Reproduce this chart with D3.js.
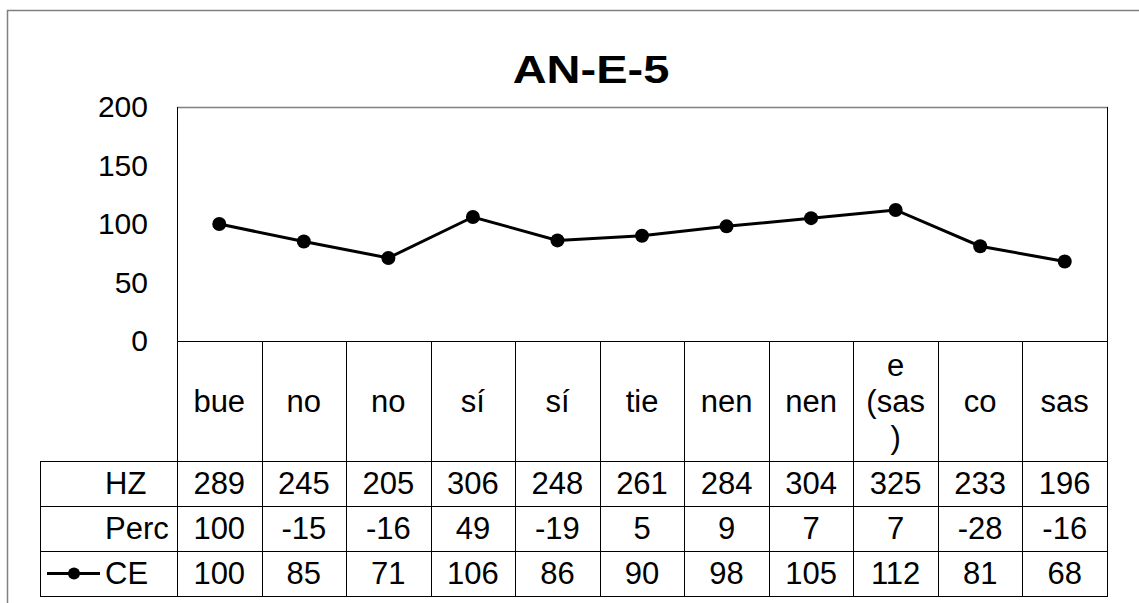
<!DOCTYPE html>
<html lang="en">
<head>
  <meta charset="UTF-8">
  <title>AN-E-5</title>
  <script src="https://cdn.jsdelivr.net/npm/d3@7"></script>
  <style>
    body { margin: 0; background: #fff; }
    text { font-family: "Liberation Sans", Arial, sans-serif; fill: #000; }
  </style>
</head>
<body>
  <script>
    const title = "AN-E-5";
    const categories = ["bue", "no", "no", "sí", "sí", "tie", "nen", "nen", "e (sas)", "co", "sas"];
    const hzValues = [289, 245, 205, 306, 248, 261, 284, 304, 325, 233, 196];
    const percValues = [100, -15, -16, 49, -19, 5, 9, 7, 7, -28, -16];
    const ceValues = [100, 85, 71, 106, 86, 90, 98, 105, 112, 81, 68];
    const yTicks = [0, 50, 100, 150, 200];

    const w = 1139, h = 603;
    const plotLeft = 177, plotRight = 1107, plotTop = 107, axisY = 341;
    const catBottom = 461, rowH = 45, tableLeft = 40;
    const fs = 30, tfs = 31;

    const svg = d3.select("body").append("svg")
      .attr("width", w).attr("height", h);

    // outer frame
    svg.append("rect")
      .attr("x", 7.5).attr("y", 10.5)
      .attr("width", w + 20).attr("height", h + 20)
      .attr("fill", "none").attr("stroke", "#808080").attr("stroke-width", 1.5);

    // title: wide glyphs, squashed vertically like the original
    svg.append("text")
      .attr("transform", "translate(591,83) scale(1,0.83)")
      .attr("text-anchor", "middle")
      .style("font-size", "47px").style("font-weight", "bold")
      .text(title);

    const x = d3.scaleBand().domain(d3.range(categories.length)).range([plotLeft, plotRight]);
    const y = d3.scaleLinear().domain([0, 200]).range([axisY, plotTop]);

    // plot area border
    svg.append("rect")
      .attr("x", plotLeft + 0.5).attr("y", plotTop + 0.5)
      .attr("width", plotRight - plotLeft).attr("height", axisY - plotTop)
      .attr("fill", "none").attr("stroke", "#000").attr("stroke-width", 1);
    svg.append("line")
      .attr("x1", plotLeft).attr("x2", plotRight + 1)
      .attr("y1", plotTop + 0.5).attr("y2", plotTop + 0.5)
      .attr("stroke", "#808080").attr("stroke-width", 1.5);

    // y axis labels
    const yAxis = d3.axisLeft(y).tickValues(yTicks).tickSize(0).tickPadding(29);
    const gy = svg.append("g").attr("transform", `translate(${plotLeft},0)`).call(yAxis);
    gy.select(".domain").remove();
    gy.selectAll("text")
      .style("font-size", fs + "px")
      .style("font-family", '"Liberation Sans", Arial, sans-serif');

    // table grid
    const tableBottom = catBottom + rowH * 3;
    const grid = svg.append("g").attr("stroke", "#000").attr("stroke-width", 1);
    d3.range(categories.length + 1).forEach(i => {
      const xx = Math.round(plotLeft + x.step() * i) + 0.5;
      grid.append("line").attr("x1", xx).attr("x2", xx)
        .attr("y1", i === 0 || i === categories.length ? plotTop : axisY).attr("y2", tableBottom);
    });
    grid.append("line").attr("x1", tableLeft + 0.5).attr("x2", tableLeft + 0.5)
      .attr("y1", catBottom).attr("y2", tableBottom + 0.5);
    grid.append("line").attr("x1", plotLeft).attr("x2", plotRight + 1)
      .attr("y1", axisY + 0.5).attr("y2", axisY + 0.5);
    [0, 1, 2, 3].forEach(r => {
      const yy = catBottom + rowH * r + 0.5;
      grid.append("line").attr("x1", tableLeft).attr("x2", plotRight + 1)
        .attr("y1", yy).attr("y2", yy);
    });

    // category labels with wrapping
    const maxW = x.bandwidth() - 20;
    const catG = svg.append("g");
    categories.forEach((c, i) => {
      const probe = catG.append("text").style("font-size", tfs + "px");
      const measure = s => { probe.text(s); return probe.node().getComputedTextLength(); };
      const lines = [];
      let cur = "";
      c.split(" ").forEach(word => {
        const cand = cur ? cur + " " + word : word;
        if (measure(cand) <= maxW) { cur = cand; return; }
        if (cur) { lines.push(cur); cur = ""; }
        for (const ch of word) {
          if (cur && measure(cur + ch) > maxW) { lines.push(cur); cur = ch; }
          else cur += ch;
        }
      });
      if (cur) lines.push(cur);
      probe.remove();
      const lh = 36;
      const cy = (axisY + catBottom) / 2;
      const t = catG.append("text")
        .attr("x", x(i) + x.bandwidth() / 2)
        .attr("text-anchor", "middle")
        .style("font-size", tfs + "px");
      lines.forEach((ln, k) => {
        t.append("tspan")
          .attr("x", x(i) + x.bandwidth() / 2)
          .attr("y", cy + (k - (lines.length - 1) / 2) * lh)
          .attr("dy", "0.35em")
          .text(ln);
      });
    });

    // data rows
    const rows = [
      { name: "HZ", values: hzValues },
      { name: "Perc", values: percValues },
      { name: "CE", values: ceValues }
    ];
    rows.forEach((r, ri) => {
      const cy = catBottom + rowH * ri + rowH / 2;
      svg.append("text")
        .attr("x", 105).attr("y", cy).attr("dy", "0.35em")
        .style("font-size", tfs + "px")
        .text(r.name);
      svg.append("g").selectAll("text")
        .data(r.values)
        .enter().append("text")
        .attr("x", (d, i) => x(i) + x.bandwidth() / 2)
        .attr("y", cy).attr("dy", "0.35em")
        .attr("text-anchor", "middle")
        .style("font-size", tfs + "px")
        .text(d => d);
    });

    // legend key in CE row
    const ly = catBottom + rowH * 2.5;
    svg.append("line").attr("x1", 47).attr("x2", 100).attr("y1", ly).attr("y2", ly)
      .attr("stroke", "#000").attr("stroke-width", 3);
    svg.append("circle").attr("cx", 74).attr("cy", ly).attr("r", 6).attr("fill", "#000");

    // CE line
    const line = d3.line()
      .x((d, i) => x(i) + x.bandwidth() / 2)
      .y(d => y(d));
    svg.append("path")
      .datum(ceValues)
      .attr("d", line)
      .attr("fill", "none").attr("stroke", "#000").attr("stroke-width", 3);
    svg.append("g").selectAll("circle")
      .data(ceValues)
      .enter().append("circle")
      .attr("cx", (d, i) => x(i) + x.bandwidth() / 2)
      .attr("cy", d => y(d))
      .attr("r", 7)
      .attr("fill", "#000");
  </script>
</body>
</html>
